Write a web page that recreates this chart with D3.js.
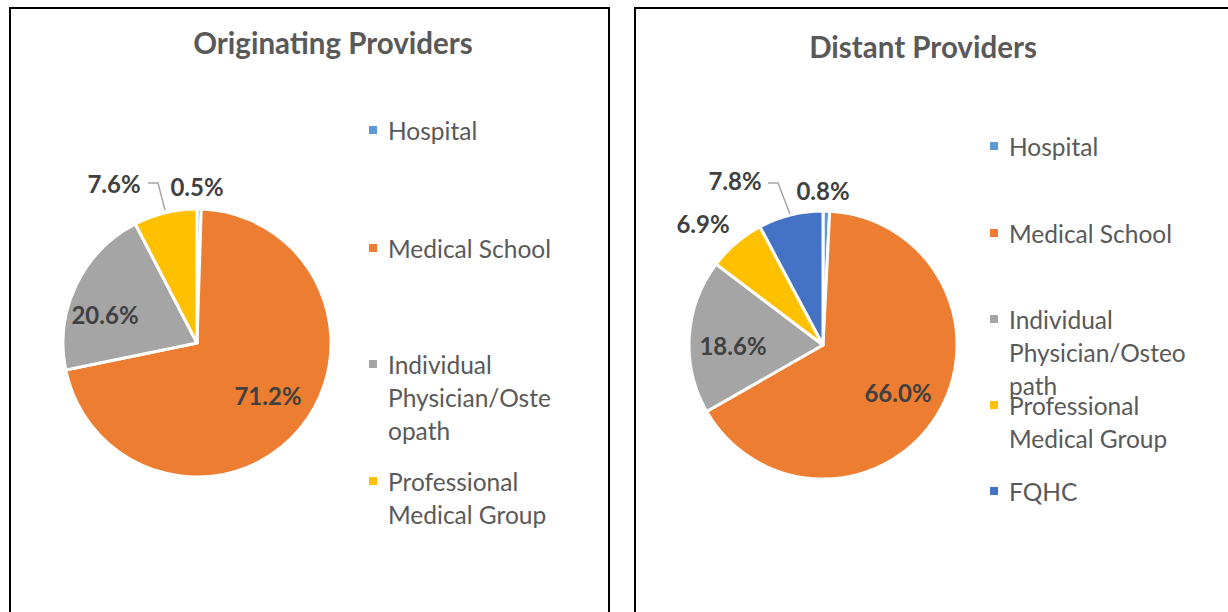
<!DOCTYPE html>
<html><head><meta charset="utf-8">
<script src="https://cdn.jsdelivr.net/npm/d3@7"></script>
<style>
html,body{margin:0;padding:0;background:#fff;}
svg{display:block;}
text{font-family:Lato,"Open Sans",sans-serif;}
</style></head>
<body>
<svg id="c" width="1228" height="612"></svg>
<script>
const categoriesLeft = ["Hospital","Medical School","Individual Physician/Osteopath","Professional Medical Group"];
const valuesLeft = [0.5, 71.2, 20.6, 7.6];
const categoriesRight = ["Hospital","Medical School","Individual Physician/Osteopath","Professional Medical Group","FQHC"];
const valuesRight = [0.8, 66.0, 18.6, 6.9, 7.8];
const colorMap = {"Hospital":"#5B9BD5","Medical School":"#ED7D31","Individual Physician/Osteopath":"#A5A5A5","Professional Medical Group":"#FFC000","FQHC":"#4472C4"};

const svg = d3.select("#c");

function panel(cfg){
  const g = svg.append("g");
  g.append("rect").attr("x",cfg.px).attr("y",cfg.py).attr("width",cfg.pw).attr("height",cfg.ph)
    .attr("fill","#fff").attr("stroke","#000").attr("stroke-width",2);
  g.append("text").attr("x",cfg.tx).attr("y",cfg.ty).attr("text-anchor","middle")
    .attr("font-size",29.5).attr("font-weight","bold").attr("fill","#595959").text(cfg.title);
  const data = cfg.cats.map((c,i)=>({cat:c,val:cfg.vals[i]}));
  const pie = d3.pie().sort(null).value(d=>d.val);
  const arcs = pie(data);
  const arc = d3.arc().innerRadius(0).outerRadius(cfg.r);
  const color = d3.scaleOrdinal().domain(Object.keys(colorMap)).range(Object.values(colorMap));
  const pg = g.append("g").attr("transform",`translate(${cfg.cx},${cfg.cy})`);
  pg.selectAll("path").data(arcs).join("path").attr("d",arc)
    .attr("fill",d=>color(d.data.cat)).attr("stroke","#fff").attr("stroke-width",3).attr("stroke-linejoin","round");
  const lg = g.append("g");
  cfg.labels.forEach((L,i)=>{
    lg.append("text").attr("x",L[0]).attr("y",L[1]).attr("text-anchor","middle").attr("dominant-baseline","central")
      .attr("font-size",24).attr("font-weight","bold").attr("fill","#404040")
      .text(d3.format(".1f")(cfg.vals[L[2]])+"%");
  });
  if(cfg.leader){
    lg.append("polyline").attr("points",cfg.leader.map(p=>p.join(",")).join(" "))
      .attr("fill","none").attr("stroke","#A6A6A6").attr("stroke-width",1.5);
  }
  const leg = g.append("g");
  cfg.legend.forEach((it,i)=>{
    leg.append("rect").attr("x",cfg.lx).attr("y",it.y-4).attr("width",8).attr("height",8).attr("fill",color(cfg.cats[i]));
    const t = leg.append("text").attr("x",cfg.lx+19).attr("y",it.y).attr("dominant-baseline","central")
      .attr("font-size",24.5).attr("fill","#595959");
    it.lines.forEach((ln,j)=>{
      t.append("tspan").attr("x",cfg.lx+19).attr("y",it.y + j*33).text(ln);
    });
  });
}

panel({px:10,py:8,pw:599,ph:620,tx:333,ty:54,title:"Originating Providers",
  cats:categoriesLeft, vals:valuesLeft, cx:197, cy:343, r:134,
  labels:[[268,395,1],[105,314,2],[114,183,3],[197,186,0]],
  leader:[[148,183],[158,183],[165,210]],
  lx:369,
  legend:[{y:130,lines:["Hospital"]},{y:248,lines:["Medical School"]},{y:364,lines:["Individual","Physician/Oste","opath"]},{y:481,lines:["Professional","Medical Group"]}]
});
panel({px:635,py:8,pw:620,ph:620,tx:923,ty:58,title:"Distant Providers",
  cats:categoriesRight, vals:valuesRight, cx:823, cy:345, r:134,
  labels:[[898,392,1],[733,345,2],[703,223,3],[735,180,4],[823,190,0]],
  leader:[[768,183],[778,183],[790,214]],
  lx:990,
  legend:[{y:146,lines:["Hospital"]},{y:233,lines:["Medical School"]},{y:319,lines:["Individual","Physician/Osteo","path"]},{y:405,lines:["Professional","Medical Group"]},{y:491,lines:["FQHC"]}]
});
</script>
</body></html>
